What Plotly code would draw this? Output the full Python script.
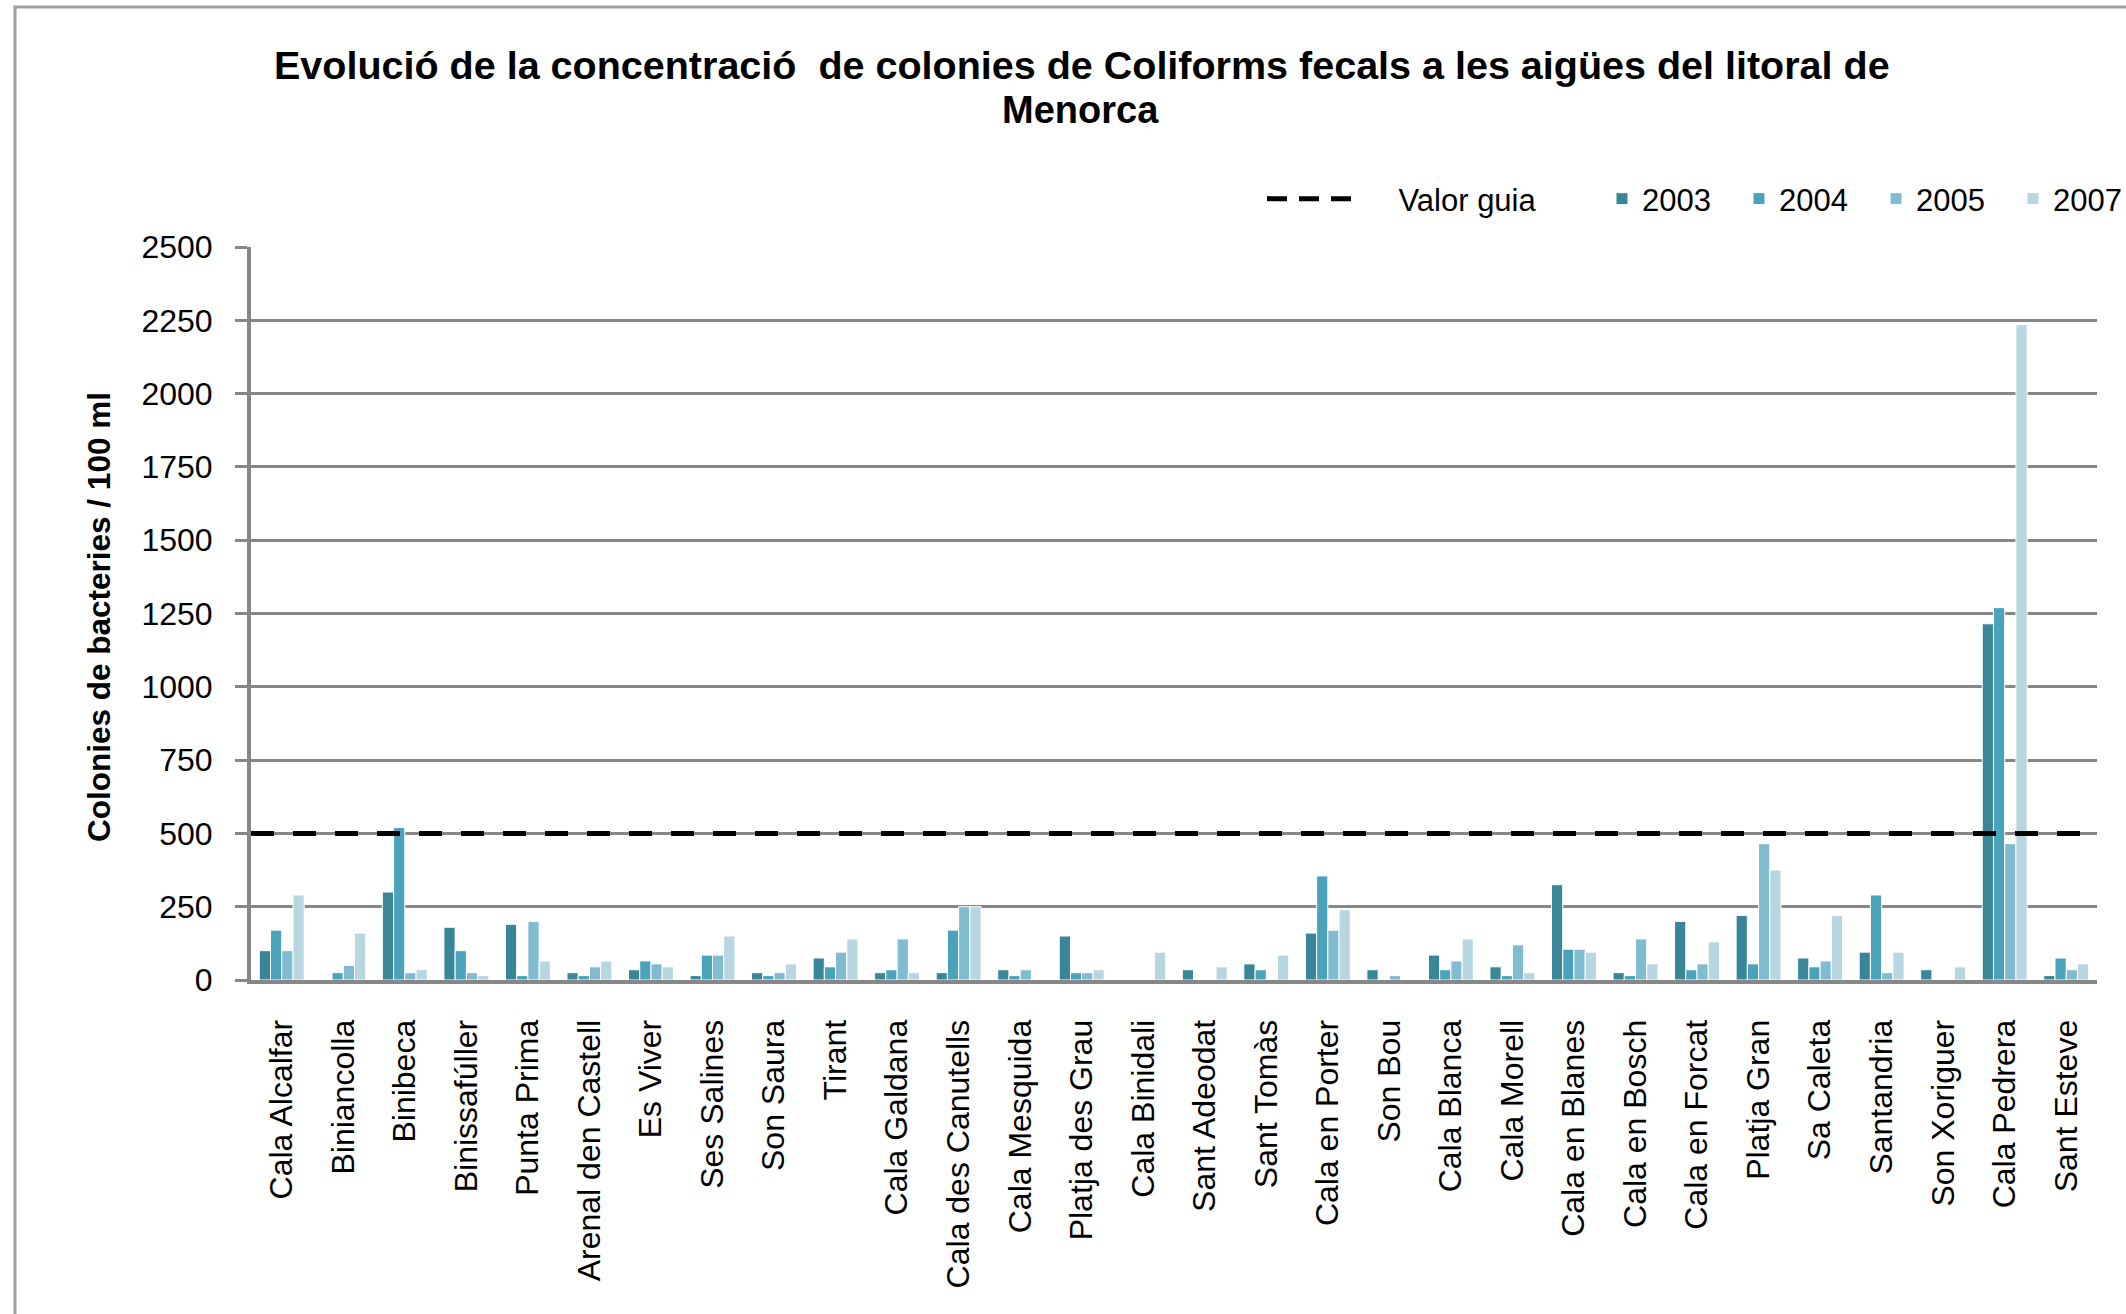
import plotly.graph_objects as go

categories = ["Cala Alcalfar", "Biniancolla", "Binibeca", "Binissafúller", "Punta Prima",
              "Arenal den Castell", "Es Viver", "Ses Salines", "Son Saura", "Tirant",
              "Cala Galdana", "Cala des Canutells", "Cala Mesquida", "Platja des Grau",
              "Cala Binidali", "Sant Adeodat", "Sant Tomàs", "Cala en Porter", "Son Bou",
              "Cala Blanca", "Cala Morell", "Cala en Blanes", "Cala en Bosch",
              "Cala en Forcat", "Platja Gran", "Sa Caleta", "Santandria", "Son Xoriguer",
              "Cala Pedrera", "Sant Esteve"]

v2003 = [100, 0, 300, 180, 190, 25, 35, 15, 25, 75, 25, 25, 35, 150, 0, 35, 55, 160, 35, 85,
         45, 325, 25, 200, 220, 75, 95, 35, 1215, 15]
v2004 = [170, 25, 520, 100, 15, 15, 65, 85, 15, 45, 35, 170, 15, 25, 0, 0, 35, 355, 0, 35,
         15, 105, 15, 35, 55, 45, 290, 0, 1270, 75]
v2005 = [100, 50, 25, 25, 200, 45, 55, 85, 25, 95, 140, 250, 35, 25, 0, 0, 0, 170, 15, 65,
         120, 105, 140, 55, 465, 65, 25, 0, 465, 35]
v2007 = [290, 160, 35, 15, 65, 65, 45, 150, 55, 140, 25, 250, 0, 35, 95, 45, 85, 240, 0, 140,
         25, 95, 55, 130, 375, 220, 95, 45, 2235, 55]

series_names = ["2003", "2004", "2005", "2007"]
series_values = [v2003, v2004, v2005, v2007]
series_colors = ["#3A8699", "#4AA3BB", "#80BBD0", "#B8D6E0"]

guide_value = 500
guide_label = "Valor guia"

title_lines = ["Evolució de la concentració  de colonies de Coliforms fecals a les aigües del litoral de",
               "Menorca"]
y_title = "Colonies de bacteries / 100 ml"
y_ticks = [0, 250, 500, 750, 1000, 1250, 1500, 1750, 2000, 2250, 2500]

FONT = "Liberation Sans, Arial, sans-serif"
W, H = 2126, 1314
L, R, T, B = 251, 29, 247, 334
PW, PH = W - L - R, H - T - B


def px_x(px):
    return (px - L) / PW


def px_y(py):
    return (H - B - py) / PH


fig = go.Figure()

for name, vals, col in zip(series_names, series_values, series_colors):
    fig.add_trace(go.Bar(
        x=categories, y=vals, name=name,
        marker=dict(color=col, line=dict(color="white", width=1)),
        legend="legend2"))

# guide line on an overlay numeric axis spanning the whole plot width
fig.add_trace(go.Scatter(
    x=[0, 1], y=[guide_value, guide_value], mode="lines", name=guide_label,
    xaxis="x2", yaxis="y",
    line=dict(color="black", width=5, dash="23px,19px"),
    legend="legend", showlegend=False, hoverinfo="skip"))
# legend entry for the guide line
fig.add_trace(go.Scatter(
    x=[None], y=[None], mode="lines", name="\u00a0\u00a0\u00a0\u00a0" + guide_label,
    xaxis="x2", yaxis="y",
    line=dict(color="black", width=5, dash="20px,12px"),
    legend="legend", showlegend=True, hoverinfo="skip"))

annotations = [
    dict(text="<b>" + title_lines[0] + "</b>", xref="paper", yref="paper",
         x=px_x(1082), y=px_y(65), xanchor="center", yanchor="middle", showarrow=False,
         font=dict(size=39.5, family=FONT)),
    dict(text="<b>" + title_lines[1] + "</b>", xref="paper", yref="paper",
         x=px_x(1080), y=px_y(110), xanchor="center", yanchor="middle", showarrow=False,
         font=dict(size=38, family=FONT)),
    dict(text="<b>" + y_title + "</b>", xref="paper", yref="paper",
         x=px_x(99), y=px_y(617), textangle=-90,
         xanchor="center", yanchor="middle", showarrow=False,
         font=dict(size=31.5, family=FONT)),
]

fig.update_layout(
    width=W, height=H,
    margin=dict(l=L, r=R, t=T, b=B, pad=0, autoexpand=False),
    paper_bgcolor="white", plot_bgcolor="white",
    font=dict(family=FONT, size=30, color="black"),
    barmode="group", bargap=0.27, bargroupgap=0,
    xaxis=dict(
        type="category", showgrid=False, tickangle=-90, ticks="",
        showline=True, linecolor="#878787", linewidth=4,
        tickfont=dict(size=32), ticklabelstandoff=23, zeroline=False),
    xaxis2=dict(overlaying="x", range=[0, 1], visible=False, showgrid=False, zeroline=False),
    yaxis=dict(
        range=[0, 2500], tickvals=y_ticks, showgrid=True, gridcolor="#878787",
        gridwidth=2.5, showline=True, linecolor="#878787", linewidth=4, ticks="outside",
        ticklen=12, tickwidth=3, tickcolor="#878787", tickfont=dict(size=32),
        ticklabelstandoff=16, zeroline=False),
    legend=dict(orientation="h", x=px_x(1262), y=px_y(199), xanchor="left", yanchor="middle",
                font=dict(size=31), bgcolor="rgba(0,0,0,0)", itemwidth=92),
    legend2=dict(orientation="h", x=px_x(1602), y=px_y(199), xanchor="left", yanchor="middle",
                 font=dict(size=31), bgcolor="rgba(0,0,0,0)", entrywidth=92,
                 entrywidthmode="pixels", traceorder="normal"),
    annotations=annotations,
    shapes=[
        dict(type="rect", xref="paper", yref="paper",
             x0=px_x(15), x1=px_x(W + 40), y0=px_y(H + 40), y1=px_y(7),
             line=dict(color="#A0A0A0", width=3), fillcolor="rgba(0,0,0,0)", layer="below"),
    ],
)

fig.write_html("out.html", config={"displayModeBar": False},
               post_script="document.body.style.margin='0';")
